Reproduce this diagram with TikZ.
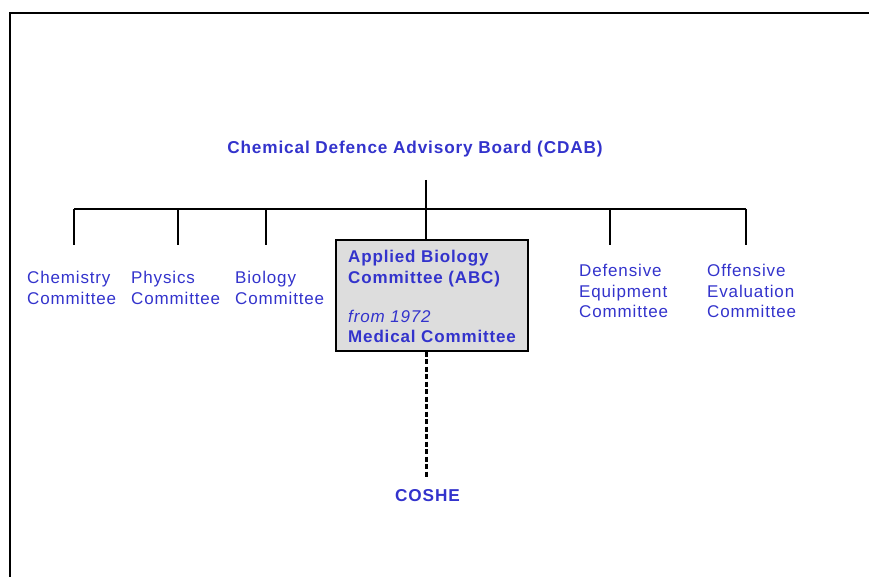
\documentclass[tikz,border=0pt]{standalone}
\usepackage{fontspec}
\setmainfont{Liberation Sans}[LetterSpace=5]
\definecolor{txtblue}{RGB}{51,51,204}
\definecolor{boxgray}{RGB}{221,221,221}
\begin{document}
\begin{tikzpicture}[x=1pt,y=-1pt,
  lbl/.style={inner sep=0pt, anchor=north west, align=left, text=txtblue,
    font=\fontsize{17}{20.5}\selectfont},
  ttl/.style={inner sep=0pt, anchor=north, text=txtblue,
    font=\fontsize{17.2}{20.5}\selectfont\bfseries},
  conn/.style={line width=1.2pt, black},
  dashconn/.style={line width=3pt, black, dash pattern=on 5pt off 2.5pt}]
\useasboundingbox (0,0) rectangle (869,577);
% frame
\draw[line width=1.5pt] (10,577) -- (10,13) -- (869,13);
% title
\node[ttl] (title) at (415,141) {Chemical Defence Advisory Board (CDAB)};
% box
\node[draw=black, line width=1.2pt, fill=boxgray, minimum width=192pt, minimum height=111pt, inner sep=0pt] (abc) at (432,295.5) {};
\node[lbl] (abctext) at (348,250) {\bfseries Applied Biology\\\bfseries Committee (ABC)\\[18.5pt]\itshape from 1972\\\bfseries Medical Committee};
% committees
\node[lbl] (chem) at (27,271) {Chemistry\\Committee};
\node[lbl] (phys) at (131,271) {Physics\\Committee};
\node[lbl] (bio) at (235,271) {Biology\\Committee};
\node[lbl] (def) at (579,264) {Defensive\\Equipment\\Committee};
\node[lbl] (off) at (707,264) {Offensive\\Evaluation\\Committee};
\node[ttl] (coshe) at (427.5,489) {COSHE};
% coordinates
\coordinate (tstem) at (426,180);
\coordinate (bmid) at (426,209);
\coordinate (bl) at (74,209);
\coordinate (br) at (746,209);
\coordinate (cchem) at (74,245);
\coordinate (cphys) at (178,245);
\coordinate (cbio) at (266,245);
\coordinate (cdef) at (610,245);
\coordinate (coff) at (746,245);
\coordinate (dend) at (426,477);
% connectors
\draw[conn] (tstem) -- (bmid);
\draw[conn] (bl) -- (br);
\draw[conn] (bl) -- (cchem);
\draw[conn] (178,209) -- (cphys);
\draw[conn] (266,209) -- (cbio);
\draw[conn] (bmid) -- (abc.north -| bmid);
\draw[conn] (610,209) -- (cdef);
\draw[conn] (br) -- (coff);
\draw[dashconn] (abc.south -| bmid) -- (dend);
\end{tikzpicture}
\end{document}
